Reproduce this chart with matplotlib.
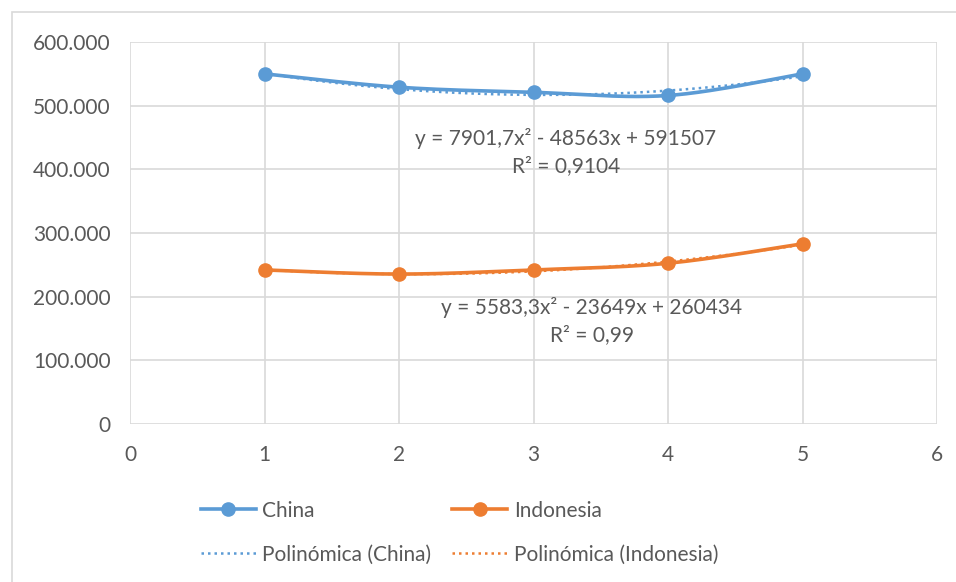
import numpy as np
import matplotlib
matplotlib.use("agg")
from matplotlib import pyplot as plt
from matplotlib.patches import Rectangle
from matplotlib.ticker import FuncFormatter

# Data
years = [1, 2, 3, 4, 5]
china = [550000, 529000, 521000, 516000, 550000]
indonesia = [242000, 235500, 242000, 252500, 283000]

# Trendline coefficients as printed on the chart (a, b, c for ax^2 + bx + c)
china_fit = [7901.7, -48563, 591507]
indonesia_fit = [5583.3, -23649, 260434]
china_label = "y = 7901,7x² - 48563x + 591507\nR² = 0,9104"
indonesia_label = "y = 5583,3x² - 23649x + 260434\nR² = 0,99"

BLUE = "#5B9BD5"
ORANGE = "#ED7D31"
TEXT = "#595959"
GRID = "#D9D9D9"
FS = 15

W, H = 956, 582


def smooth(xs, ys, n=40):
    """Excel-like smoothed line: cubic Bezier with Catmull-Rom tangents."""
    x = np.asarray(xs, float)
    y = np.asarray(ys, float)
    px = np.concatenate([[x[0]], x, [x[-1]]])
    py = np.concatenate([[y[0]], y, [y[-1]]])
    out_x, out_y = [], []
    t = np.linspace(0, 1, n)
    for i in range(1, len(x)):
        p0 = np.array([px[i], py[i]])
        p3 = np.array([px[i + 1], py[i + 1]])
        c1 = p0 + (p3 - np.array([px[i - 1], py[i - 1]])) / 6
        c2 = p3 - (np.array([px[i + 2], py[i + 2]]) - p0) / 6
        pts = ((1 - t)[:, None] ** 3 * p0 + 3 * ((1 - t) ** 2 * t)[:, None] * c1
               + 3 * ((1 - t) * t ** 2)[:, None] * c2 + (t ** 3)[:, None] * p3)
        out_x.extend(pts[:, 0])
        out_y.extend(pts[:, 1])
    return out_x, out_y


plt.rcParams["font.family"] = ["Lato", "DejaVu Sans"]
fig = plt.figure(figsize=(W / 100, H / 100), dpi=100)

# chart frame (cropped on the right and bottom in the reference)
fig.patches.append(Rectangle((12 / W, -0.1), 1.1, 1 - 12 / H + 0.1,
                             transform=fig.transFigure, fill=False,
                             edgecolor=GRID, lw=1.2))

ax = fig.add_axes((130 / W, 1 - 424 / H, (937 - 130) / W, (424 - 42) / H))
ax.set_xlim(0, 6)
ax.set_ylim(0, 600000)
ax.set_xticks(range(0, 7))
ax.set_yticks(range(0, 600001, 100000))
ax.yaxis.set_major_formatter(FuncFormatter(lambda v, p: f"{int(v):,}".replace(",", ".")))
ax.grid(True, color=GRID, lw=1.2)
ax.set_axisbelow(True)
for s in ax.spines.values():
    s.set_visible(False)
ax.tick_params(length=0, labelsize=FS, colors=TEXT)
ax.tick_params(axis="y", pad=14)
ax.tick_params(axis="x", pad=15)

xt = np.linspace(1, 5, 200)
for vals, fit, color, name in [(china, china_fit, BLUE, "China"),
                               (indonesia, indonesia_fit, ORANGE, "Indonesia")]:
    sx, sy = smooth(years, vals)
    ax.plot(sx, sy, color=color, lw=2.6, zorder=3)
    ax.plot(years, vals, "o", color=color, ms=9.5, zorder=4)
    ax.plot([], [], "-o", color=color, lw=2.6, ms=9.5, label=name)
    ax.plot(xt, np.polyval(fit, xt), color=color, lw=1.8, ls=(0, (1, 1.6)),
            zorder=2, label=f"Polinómica ({name})")

# trendline equations
fig.text(566 / W, 1 - 152 / H, china_label, ha="center", va="center",
         fontsize=FS, color=TEXT, linespacing=1.4)
fig.text(592 / W, 1 - 321 / H, indonesia_label, ha="center", va="center",
         fontsize=FS, color=TEXT, linespacing=1.4)

# legend: China, Indonesia / Polinómica (China), Polinómica (Indonesia)
h, l = ax.get_legend_handles_labels()
fig.legend(h, l, ncol=2, loc="upper left", bbox_to_anchor=(182 / W, 1 - 482 / H),
           frameon=False, fontsize=FS, handlelength=2.65, handletextpad=0.3,
           columnspacing=1.0, labelspacing=1.15, labelcolor=TEXT)

fig.savefig("out.png", dpi=100)
